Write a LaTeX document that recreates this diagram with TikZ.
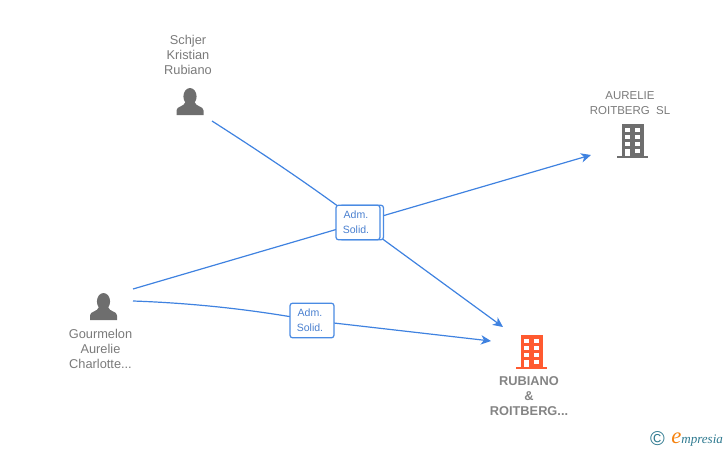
\documentclass[tikz,border=0pt]{standalone}
\usepackage{fontspec}
\setmainfont{Liberation Sans}
\newfontfamily\logofont{Liberation Serif}
\usetikzlibrary{arrows.meta}
\definecolor{linkblue}{HTML}{3F82E0}
\definecolor{boxblue}{HTML}{4A8BE3}
\definecolor{labelblue}{HTML}{4A80D0}
\definecolor{icongrey}{HTML}{6E6E6E}
\definecolor{textgrey}{HTML}{7A7A7A}
\definecolor{boldgrey}{HTML}{848484}
\definecolor{orangeicon}{HTML}{FF5A30}
\definecolor{logoteal}{HTML}{2F7A90}
\definecolor{logoorange}{HTML}{F5820F}
\tikzset{
  x=0.75pt,y=-0.75pt,
  linkline/.style={draw=linkblue,line width=0.9pt},
  linkarrow/.style={linkline,-{Stealth[length=7.5pt,width=7pt,inset=2.2pt]}},
  relbox/.style={draw=boxblue,line width=0.95pt,fill=white,rounded corners=2pt,minimum width=33pt,minimum height=26pt,inner sep=0pt,align=center,text=labelblue,font=\fontsize{7.9pt}{11.2pt}\selectfont},
  namelabel/.style={align=center,text=textgrey,inner sep=0pt,font=\fontsize{9.6pt}{11.25pt}\selectfont},
  capslabel/.style={align=center,text=textgrey,inner sep=0pt,font=\fontsize{8.6pt}{11.25pt}\selectfont},
  boldlabel/.style={align=center,text=boldgrey,inner sep=0pt,font=\fontsize{9.6pt}{11.25pt}\selectfont\bfseries},
  personicon/.pic={
    \fill[icongrey] (0,-5.5) ellipse (6.6 and 8.5);
    \fill[icongrey] (-13.5,13) -- (-13.5,8.5) .. controls (-13.5,4) and (-6,5) .. (-4.5,0) -- (4.5,0) .. controls (6,5) and (13.5,4) .. (13.5,8.5) -- (13.5,13) -- cycle;
  },
  buildingicon/.pic={
    \fill[pic actions] (-15.5,15) rectangle (15.5,17);
    \fill[pic actions] (-10.8,-17) rectangle (11.2,15.5);
    \foreach \wy in {-13,-6,1}{
      \fill[white] (-7.5,\wy) rectangle (-2.5,\wy+4.2);
      \fill[white] (2.5,\wy) rectangle (7.5,\wy+4.2);
    }
    \fill[white] (-7.5,7.5) rectangle (-2.5,15.2);
    \fill[white] (2.5,7.5) rectangle (7.5,11.7);
  }
}
\begin{document}
\begin{tikzpicture}
\useasboundingbox (0,0) rectangle (728,450);
% icons
\pic at (190,102) {personicon};
\pic at (103.5,307) {personicon};
\pic[fill=icongrey] at (632.5,141) {buildingicon};
\pic[fill=orangeicon] at (531.5,352) {buildingicon};
% text and anchors
\node[namelabel] (schjer) at (188,55) {Schjer\\Kristian\\Rubiano};
\node[namelabel] (gourmelon) at (100.5,349) {Gourmelon\\Aurelie\\Charlotte...};
\node[capslabel] (aurelie) at (630,103) {AURELIE\\ROITBERG\ \ SL};
\node[boldlabel] (rubiano) at (529,396) {RUBIANO\\\&\\ROITBERG...};
\coordinate (schjerout) at (212,121);
\coordinate (gourout1) at (133,289);
\coordinate (gourout2) at (133,301);
\coordinate (aurelein) at (591,155);
\coordinate (rubin1) at (503,327);
\coordinate (rubin2) at (491,341);
% relation boxes
\coordinate (boxmid) at (360,222.5);
\draw[linkline] (schjerout) .. controls (265,155) and (310,185) .. (boxmid);
\draw[linkarrow] (boxmid) -- (rubin1);
\draw[linkline] (gourout1) -- (boxmid);
\draw[linkarrow] (boxmid) -- (aurelein);
\node[relbox,minimum width=33pt] (backbox) at (361.5,222.5) {};
\node[relbox] (frontbox) at (358,222.5) {\hspace*{-3pt}Adm.\\\hspace*{-3pt}Solid.};
\draw[linkline] (gourout2) .. controls (190,303) and (250,309) .. (312,320.5);
\draw[linkarrow] (312,320.5) -- (rubin2);
\node[relbox] (lowerbox) at (312,320.5) {\hspace*{-3pt}Adm.\\\hspace*{-3pt}Solid.};
% logo
\node[inner sep=0pt,text=logoteal,font=\fontsize{15pt}{15pt}\selectfont] (copyr) at (657.5,438.5) {©};
\node[inner sep=0pt,anchor=base west,font=\logofont\fontsize{9.8pt}{10pt}\selectfont\itshape,text=logoteal] (logo) at (671,443) {{\fontsize{17pt}{17pt}\selectfont\color{logoorange}e}mpresia};
\end{tikzpicture}
\end{document}
